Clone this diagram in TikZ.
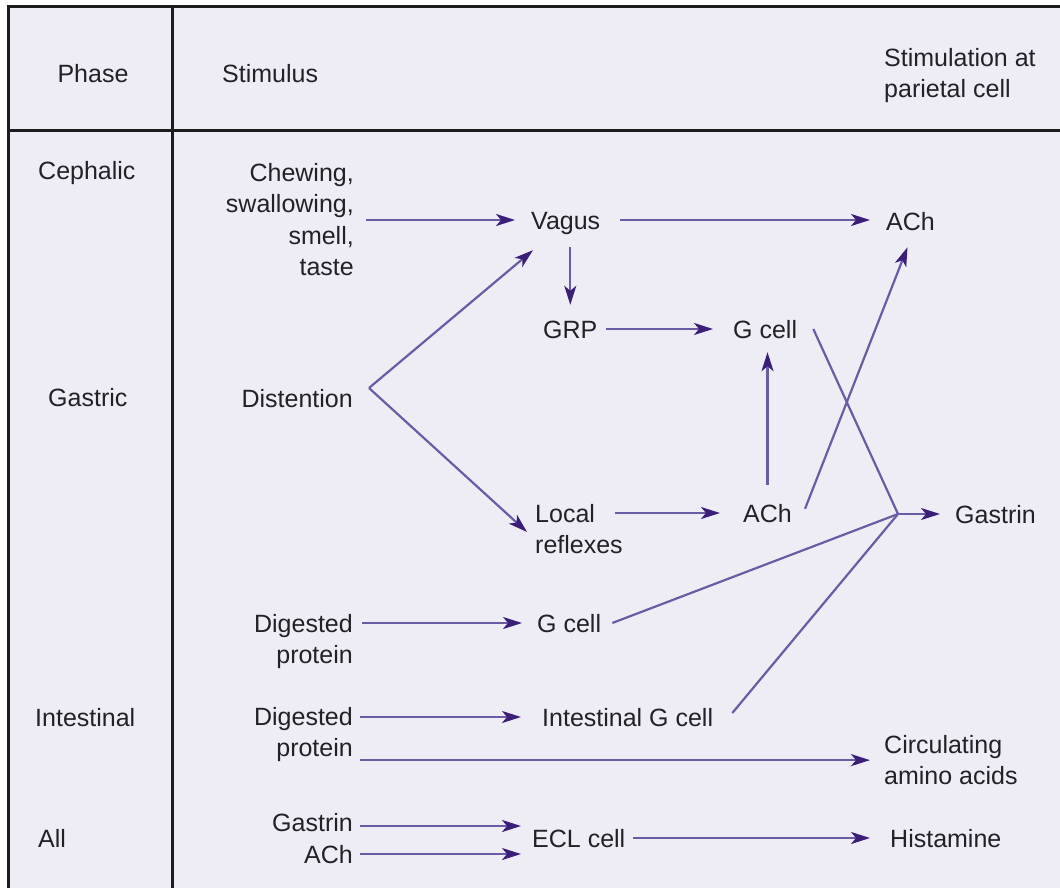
\documentclass[tikz,border=0pt]{standalone}
\usepackage{fontspec}
\setmainfont{Liberation Sans}
\usetikzlibrary{arrows.meta}

\definecolor{paper}{RGB}{238,237,246}
\definecolor{rule}{RGB}{28,28,30}
\definecolor{ink}{RGB}{34,34,38}
\definecolor{linec}{RGB}{106,92,164}
\definecolor{headc}{RGB}{58,30,120}
\newcommand{\labfont}{\fontsize{25pt}{31.5pt}\selectfont}

\tikzset{
  lab/.style={inner sep=0pt, font=\labfont, text=ink},
  one/.style={lab, text height=18pt, text depth=0pt},
  many/.style={lab},
  frame/.style={draw=rule, line width=3pt},
  arr/.style={draw=linec, line width=2.2pt,
    -{Stealth[length=19pt, width=12pt, inset=5pt, color=headc]}},
  link/.style={draw=linec, line width=2.2pt},
}

\begin{document}
\begin{tikzpicture}[x=1pt, y=-1pt]
\useasboundingbox (0,0) rectangle (1060,888);
\fill[white] (0,0) rectangle (1060,888);
\fill[paper] (8,7) rectangle (1060,888);

% table rules
\draw[frame] (6.5,7) -- (1060,7);
\draw[frame] (8,5.5) -- (8,888);
\draw[frame] (172,7) -- (172,888);
\draw[frame] (8,131) -- (1060,131);

% header
\node[one, anchor=base] (hphase) at (93,83) {Phase};
\node[one, anchor=base west] (hstim) at (222,83) {Stimulus};
\node[many, anchor=north west, align=left] (hpar) at (884,48) {Stimulation at\\parietal cell};

% phases
\node[one, anchor=base west] (ceph) at (38,179) {Cephalic};
\node[one, anchor=base west] (gastric) at (48,406) {Gastric};
\node[one, anchor=base west] (intest) at (35,726) {Intestinal};
\node[one, anchor=base west] (all) at (38,847) {All};

% stimuli
\node[many, anchor=north east, align=right] (chew) at (354,163) {Chewing,\\swallowing,\\smell,\\taste};
\node[one, anchor=base east] (dist) at (353,407) {Distention};
\node[many, anchor=north east, align=right] (dp1) at (353,614) {Digested\\protein};
\node[many, anchor=north east, align=right] (dp2) at (353,707) {Digested\\protein};
\node[one, anchor=base east] (gas) at (353,831) {Gastrin};
\node[one, anchor=base east] (achs) at (353,863) {ACh};

% intermediate steps
\node[one, anchor=base west] (vagus) at (531,229) {Vagus};
\node[one, anchor=base west] (grp) at (543,338) {GRP};
\node[one, anchor=base west] (gc1) at (733,338) {G cell};
\node[many, anchor=north west, align=left] (local) at (535,504) {Local\\reflexes};
\node[one, anchor=base west] (achm) at (743,522) {ACh};
\node[one, anchor=base west] (gc2) at (537,632) {G cell};
\node[one, anchor=base west] (igc) at (542,726) {Intestinal G cell};
\node[one, anchor=base west] (ecl) at (532,847) {ECL cell};

% stimulation at the parietal cell
\node[one, anchor=base west] (acht) at (886,230) {ACh};
\node[one, anchor=base west] (gastrin) at (955,523) {Gastrin};
\node[many, anchor=north west, align=left] (circ) at (884,735) {Circulating\\amino acids};
\node[one, anchor=base west] (hist) at (890,847) {Histamine};

% branch points
\coordinate (fork) at ([shift={(16pt,10pt)}]dist.east);
\coordinate (J) at ([xshift=-57pt]gastrin.west);

% cephalic pathway
\draw[arr, shorten <=12pt, shorten >=16pt] (vagus.west -| chew.east) -- (vagus.west);
\draw[arr, shorten <=20pt, shorten >=16pt] (vagus.east) -- (vagus.east -| acht.west);
\draw[arr, shorten <=18pt, shorten >=15pt] (grp.north |- vagus.south) -- (grp.north);
\draw[arr, shorten <=8pt, shorten >=20pt] (grp.east) -- (gc1.west);

% gastric pathway
\draw[arr] (fork) -- ([shift={(2pt,-21pt)}]vagus.south west);
\draw[arr] (fork) -- ([shift={(-8pt,-28pt)}]local.north west);
\draw[arr, shorten <=-7.5pt, shorten >=23pt] (achm.west -| local.east) -- (achm.west);
\draw[arr, shorten <=19pt, shorten >=14pt] (achm.north) -- (achm.north |- gc1.south);
\draw[arr] ([shift={(13pt,-5pt)}]achm.north east) -- ([shift={(-3pt,-17pt)}]acht.south);
\draw[arr, shorten <=9pt, shorten >=15pt] (gc2.west -| dp1.east) -- (gc2.west);

% gastrin release converges
\draw[link] ([xshift=16pt]gc1.east) -- (J);
\draw[link] ([xshift=11pt]gc2.east) -- (J);
\draw[link] ([shift={(19pt,4pt)}]igc.east) -- (J);
\draw[arr, shorten >=15pt] (J) -- (gastrin.west);

% intestinal pathway
\draw[arr, shorten <=7pt, shorten >=21pt] (igc.west -| dp2.east) -- (igc.west);
\draw[arr, shorten <=7pt, shorten >=14pt] (circ.west -| dp2.east) -- (circ.west);

% common pathway
\draw[arr, shorten <=7pt, shorten >=11pt] ([yshift=-4pt]gas.east) -- ([yshift=-4pt]gas.east -| ecl.west);
\draw[arr, shorten <=7pt, shorten >=11pt] (achs.east) -- (achs.east -| ecl.west);
\draw[arr, shorten <=8pt, shorten >=20pt] (ecl.east) -- (hist.west);
\end{tikzpicture}
\end{document}
